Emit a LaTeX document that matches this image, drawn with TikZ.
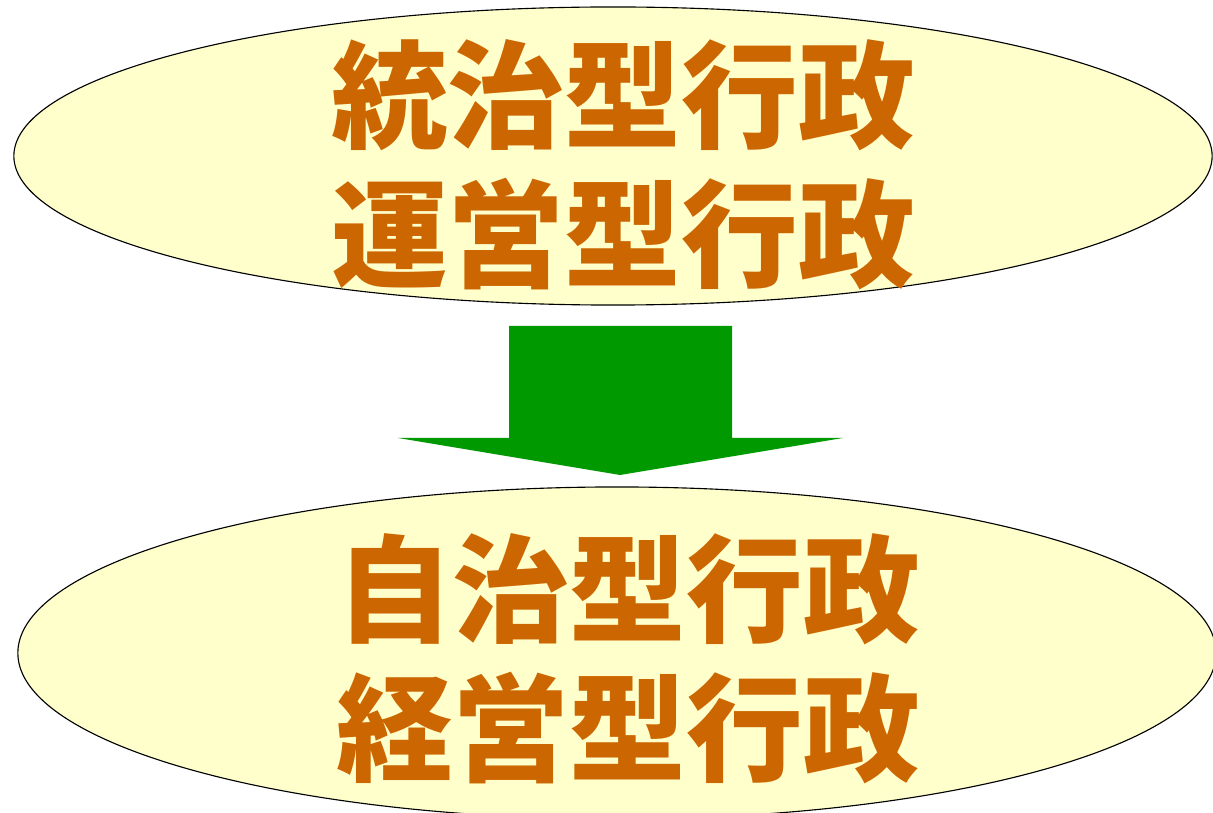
\documentclass[tikz,border=0pt]{standalone}
\usepackage{fontspec}
\usepackage{tikz}
\usetikzlibrary{shapes.geometric}
\newfontfamily\cjk{Noto Sans CJK JP}
\definecolor{boxfill}{HTML}{FFFFCC}
\definecolor{textbrown}{HTML}{CC6600}
\definecolor{arrowgreen}{HTML}{009900}
\tikzset{
	stagebox/.style = {ellipse, draw = black, line width = 0.8pt, fill = boxfill, inner sep = 0pt, minimum width = 29.95cm, minimum height = 7.45cm},
	stagetext/.style = {align = center, text = textbrown, inner sep = 0pt, font = \cjk\bfseries\fontsize{83}{99}\selectfont}
}
\begin{document}
\begin{tikzpicture}[x = 0.025cm, y = -0.025cm]
	\useasboundingbox (0, 0) rectangle (1213, 813);
	
	\node[stagebox] (old) at (613, 156) {};
	\node[stagebox, minimum height = 8.3cm] (new) at (617, 653) {};
	
	\fill[arrowgreen] (509, 326) -- (732, 326) -- (732, 438) -- (843, 438) -- (620, 475) -- (398, 438) -- (509, 438) -- cycle;
	
	\node[stagetext] (oldtext) at (623, 165) {統治型行政\\運営型行政};
	\node[stagetext] (newtext) at (628, 659) {自治型行政\\経営型行政};
\end{tikzpicture}
\end{document}
